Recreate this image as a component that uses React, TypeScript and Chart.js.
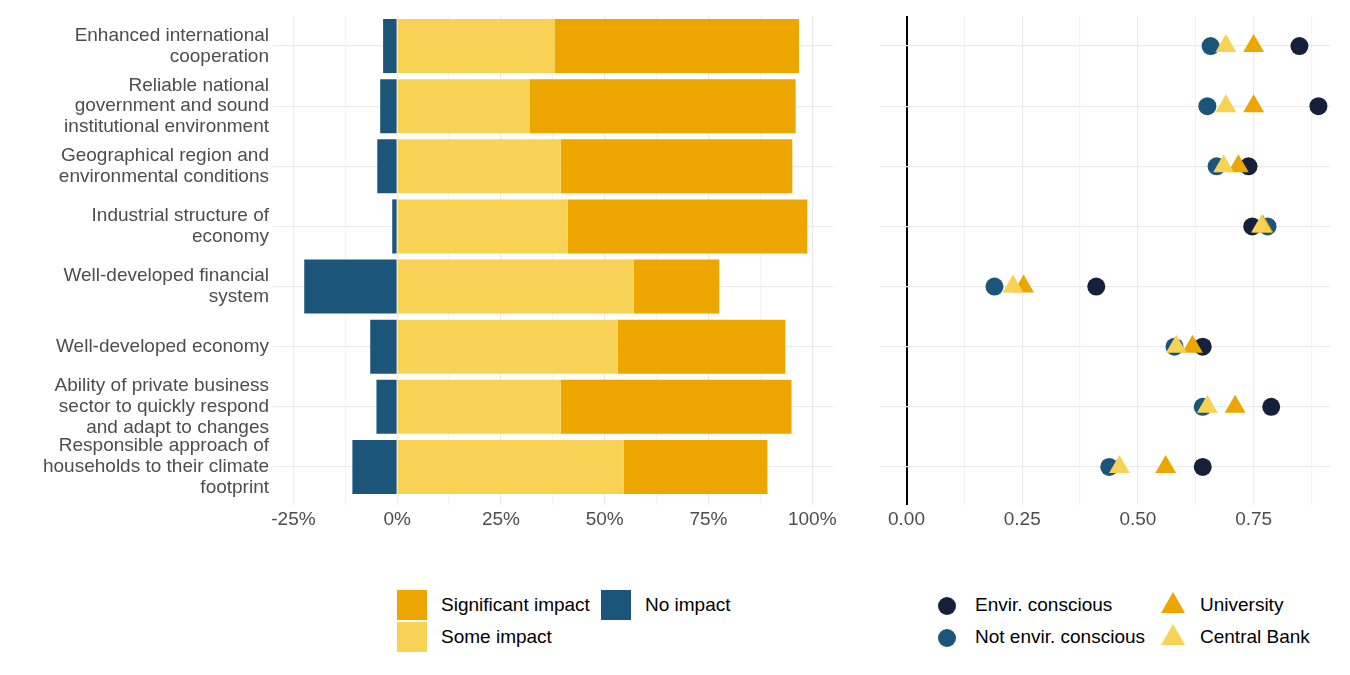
import React, { useEffect, useRef } from "react";
import { Chart, registerables } from "chart.js";
Chart.register(...registerables);

const categories: string[][] = [
  ["Enhanced international", "cooperation"],
  ["Reliable national", "government and sound", "institutional environment"],
  ["Geographical region and", "environmental conditions"],
  ["Industrial structure of", "economy"],
  ["Well-developed financial", "system"],
  ["Well-developed economy"],
  ["Ability of private business", "sector to quickly respond", "and adapt to changes"],
  ["Responsible approach of", "households to their climate", "footprint"],
];
const keys = categories.map((c) => c.join(" "));

const noImpact = [-3.4, -4.1, -4.8, -1.2, -22.4, -6.5, -5.0, -10.8];
const someImpact = [38.0, 32.0, 39.4, 41.1, 57.0, 53.1, 39.4, 54.6];
const significantImpact = [58.8, 64.0, 55.8, 57.7, 20.6, 40.4, 55.6, 34.6];

const envirConscious = [0.849, 0.89, 0.739, 0.747, 0.41, 0.64, 0.788, 0.64];
const notEnvirConscious = [0.657, 0.65, 0.67, 0.78, 0.19, 0.579, 0.64, 0.438];
const university = [0.75, 0.75, 0.717, 0.77, 0.253, 0.618, 0.71, 0.56];
const centralBank = [0.69, 0.69, 0.685, 0.767, 0.23, 0.583, 0.65, 0.46];

const C_SIG = "#eda500";
const C_SOME = "#f8d254";
const C_NO = "#1b557a";
const C_ENV = "#15213a";
const FONT = "'Liberation Sans', Arial, sans-serif";
const GRID = "#ebebeb";
const FS = 19;

export default function App() {
  const leftRef = useRef<HTMLCanvasElement>(null);
  const rightRef = useRef<HTMLCanvasElement>(null);

  useEffect(() => {
    const left = new Chart(leftRef.current!, {
      type: "bar",
      data: {
        labels: categories as any,
        datasets: [
          { label: "No impact", data: noImpact, backgroundColor: C_NO },
          { label: "Some impact", data: someImpact, backgroundColor: C_SOME },
          { label: "Significant impact", data: significantImpact, backgroundColor: C_SIG },
        ],
      },
      options: {
        indexAxis: "y",
        animation: false,
        responsive: false,
        datasets: { bar: { barPercentage: 0.9, categoryPercentage: 1 } } as any,
        layout: { padding: { top: 16, right: 12, left: 0, bottom: 0 } },
        plugins: { legend: { display: false }, tooltip: { enabled: false } },
        scales: {
          x: {
            stacked: true,
            min: -28,
            max: 105,
            afterBuildTicks: (a: any) => {
              const t = [];
              for (let v = -25; v <= 100; v += 12.5) t.push({ value: v });
              a.ticks = t;
            },
            afterFit: (a: any) => { a.height = 38; a.paddingLeft = 0; a.paddingRight = 0; },
            grid: { color: (c: any) => (c.tick && c.tick.value % 25 === 0 ? GRID : "#f4f4f4"), lineWidth: 1.2 },
            border: { display: false },
            ticks: {
              autoSkip: false,
              maxRotation: 0,
              color: "#4d4d4d",
              font: { family: FONT, size: FS },
              callback: (v: any) => (Number(v) % 25 === 0 ? v + "%" : ""),
            },
          },
          y: {
            stacked: true,
            afterFit: (a: any) => { a.width = 281; a.paddingTop = 0; a.paddingBottom = 0; },
            grid: { color: GRID, lineWidth: 1.2, offset: false },
            border: { display: false },
            ticks: { autoSkip: false, color: "#4d4d4d", font: { family: FONT, size: FS, lineHeight: 1.1 }, padding: 4 },
          },
        },
      },
    });

    const mk = (arr: number[]) => arr.map((x, i) => ({ x, y: keys[i] }));
    const right = new Chart(rightRef.current!, {
      type: "scatter",
      data: {
        datasets: [
          { label: "Envir. conscious", order: 4, data: mk(envirConscious), backgroundColor: C_ENV, borderWidth: 0, pointRadius: 9, pointStyle: "circle" },
          { label: "Not envir. conscious", order: 3, data: mk(notEnvirConscious), backgroundColor: C_NO, borderWidth: 0, pointRadius: 9, pointStyle: "circle" },
          { label: "University", order: 2, data: mk(university), backgroundColor: C_SIG, borderWidth: 0, pointRadius: 12, pointStyle: "triangle" },
          { label: "Central Bank", order: 1, data: mk(centralBank), backgroundColor: C_SOME, borderWidth: 0, pointRadius: 12, pointStyle: "triangle" },
        ] as any,
      },
      options: {
        animation: false,
        responsive: false,
        layout: { padding: { top: 16, right: 20, left: 18, bottom: 0 } },
        plugins: { legend: { display: false }, tooltip: { enabled: false } },
        scales: {
          x: {
            type: "linear",
            min: -0.04,
            max: 0.915,
            afterBuildTicks: (a: any) => {
              const t = [];
              for (let v = 0; v <= 0.875 + 1e-9; v += 0.125) t.push({ value: Math.round(v * 1000) / 1000 });
              a.ticks = t;
            },
            afterFit: (a: any) => { a.height = 38; a.paddingLeft = 0; a.paddingRight = 0; },
            grid: {
              color: (c: any) => (c.tick && c.tick.value === 0 ? "#000" : Math.round(c.tick?.value * 1000) % 250 === 0 ? GRID : "#f4f4f4"),
              lineWidth: (c: any) => (c.tick && c.tick.value === 0 ? 2 : 1.2),
            },
            border: { display: false },
            ticks: {
              autoSkip: false,
              maxRotation: 0,
              color: "#4d4d4d",
              font: { family: FONT, size: FS },
              callback: (v: any) => (Math.round(Number(v) * 1000) % 250 === 0 ? Number(v).toFixed(2) : ""),
            },
          },
          y: {
            type: "category",
            labels: keys,
            offset: true,
            afterFit: (a: any) => { a.width = 0; },
            grid: { color: GRID, lineWidth: 1.2, offset: false },
            border: { display: false },
            ticks: { display: false },
          },
        },
      },
    });
    return () => { left.destroy(); right.destroy(); };
  }, []);

  const txt: React.CSSProperties = { position: "absolute", fontFamily: FONT, fontSize: FS, color: "#000", whiteSpace: "nowrap", lineHeight: "22px" };
  const sq = (l: number, t: number, c: string) => (
    <div style={{ position: "absolute", left: l, top: t, width: 30, height: 30, background: c }} />
  );
  const circ = (l: number, t: number, c: string) => (
    <div style={{ position: "absolute", left: l - 9, top: t - 9, width: 18, height: 18, borderRadius: 9, background: c }} />
  );
  const tri = (l: number, t: number, c: string) => (
    <div style={{ position: "absolute", left: l - 12, top: t - 12, width: 0, height: 0, borderLeft: "12px solid transparent", borderRight: "12px solid transparent", borderBottom: `21px solid ${c}` }} />
  );

  return (
    <div style={{ position: "absolute", left: 0, top: 0, width: 1350, height: 675, background: "#fff" }}>
      <canvas ref={leftRef} width={845} height={535} style={{ position: "absolute", left: 0, top: 0 }} />
      <canvas ref={rightRef} width={480} height={535} style={{ position: "absolute", left: 870, top: 0 }} />
      {sq(397, 590, C_SIG)}
      <div style={{ ...txt, left: 441, top: 594 }}>Significant impact</div>
      {sq(397, 622, C_SOME)}
      <div style={{ ...txt, left: 441, top: 626 }}>Some impact</div>
      {sq(601, 590, C_NO)}
      <div style={{ ...txt, left: 645, top: 594 }}>No impact</div>
      {circ(947, 606, C_ENV)}
      <div style={{ ...txt, left: 975, top: 594 }}>Envir. conscious</div>
      {circ(947, 638, C_NO)}
      <div style={{ ...txt, left: 975, top: 626 }}>Not envir. conscious</div>
      {tri(1173, 604, C_SIG)}
      <div style={{ ...txt, left: 1200, top: 594 }}>University</div>
      {tri(1173, 636, C_SOME)}
      <div style={{ ...txt, left: 1200, top: 626 }}>Central Bank</div>
    </div>
  );
}
